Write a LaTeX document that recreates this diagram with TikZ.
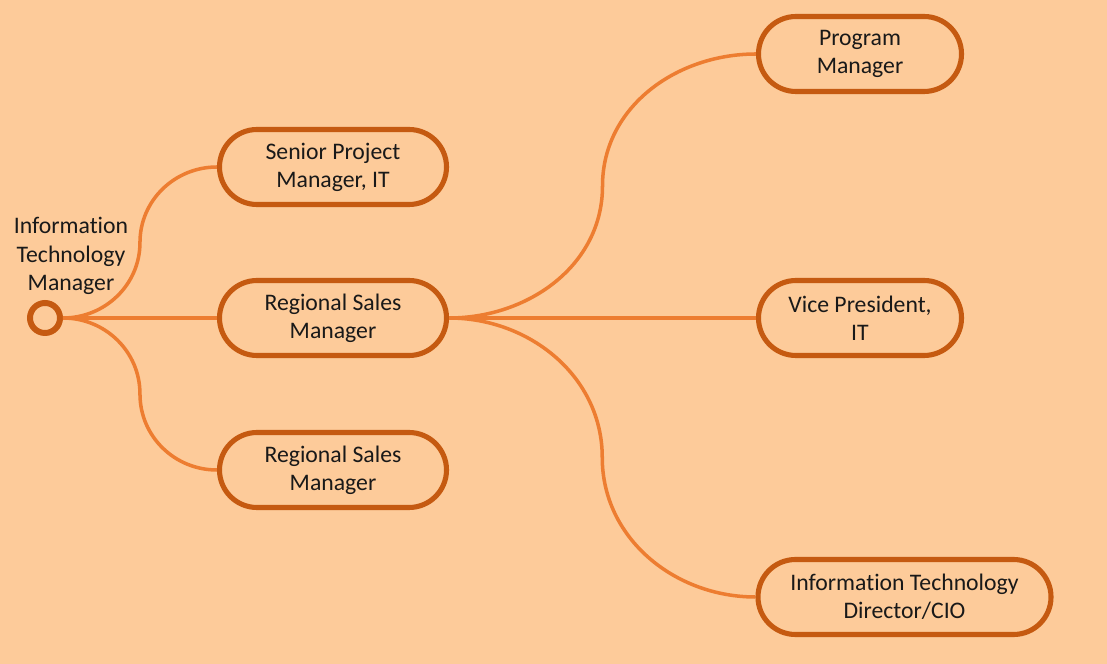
\documentclass[tikz,border=0pt]{standalone}
\usepackage{fontspec}
\setmainfont{Carlito}[Ligatures=NoCommon]
\usepackage{xcolor}
\usepackage{tikz}
\usetikzlibrary{positioning, calc}
\definecolor{peachbg}{HTML}{FDCB9A}
\definecolor{rustline}{HTML}{C55A11}
\definecolor{linkorange}{HTML}{ED7D31}

\tikzset{
  rolebox/.style={draw=rustline, line width=2.9pt, rounded corners=0.75cm,
    minimum height=1.5cm, align=center, text=black!90,
    font=\fontsize{13.5}{16}\selectfont},
  link/.style={draw=linkorange, line width=2pt}
}

\begin{document}
\begin{tikzpicture}
    \fill[peachbg] (0,0) rectangle (22.14,13.28);
    \useasboundingbox (0,0) rectangle (22.14,13.28);

    % root
    \node[circle, draw=rustline, line width=3.4pt, minimum size=0.6cm, inner sep=0pt] (root) at (0.9,6.92) {};
    \node[align=center, text=black!90, font=\fontsize{13.5}{16}\selectfont] (rootlabel) at (1.42,8.16)
      {Information\\Technology\\Manager};

    % first level
    \node[rolebox, minimum width=4.54cm] (spm) at (6.66,9.94) {Senior Project\\Manager, IT};
    \node[rolebox, minimum width=4.54cm] (rsmA) at (6.66,6.92) {Regional Sales\\Manager};
    \node[rolebox, minimum width=4.54cm] (rsmB) at (6.66,3.88) {Regional Sales\\Manager};

    % second level
    \node[rolebox, minimum width=4.06cm] (pm) at (17.2,12.2) {Program\\Manager};
    \node[rolebox, minimum width=4.06cm] (vp) at (17.2,6.92) {Vice President,\\IT};
    \node[rolebox, minimum width=5.86cm] (cio) at (18.09,1.34) {Information Technology\\Director/CIO};

    % turning points of the curved links
    \coordinate (midSPM) at ($(root.east)!0.5!(spm.west)$);
    \coordinate (midRSM) at ($(root.east)!0.5!(rsmB.west)$);
    \coordinate (midPM) at ($(rsmA.east)!0.5!(pm.west)$);
    \coordinate (midCIO) at ($(rsmA.east)!0.5!(cio.west)$);

    \draw[link] (root.east) to[out=0, in=-90] (midSPM) to[out=90, in=180] (spm.west);
    \draw[link] (root.east) -- (rsmA.west);
    \draw[link] (root.east) to[out=0, in=90] (midRSM) to[out=-90, in=180] (rsmB.west);
    \draw[link] (rsmA.east) to[out=0, in=-90] (midPM) to[out=90, in=180] (pm.west);
    \draw[link] (rsmA.east) -- (vp.west);
    \draw[link] (rsmA.east) to[out=0, in=90] (midCIO) to[out=-90, in=180] (cio.west);
\end{tikzpicture}
\end{document}
